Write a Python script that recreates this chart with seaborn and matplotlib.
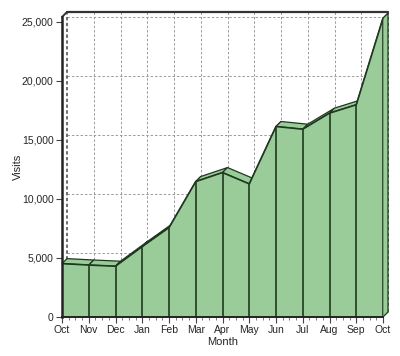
import numpy as np
import pandas as pd
import matplotlib
matplotlib.use('Agg')
import matplotlib.pyplot as plt
from matplotlib.patches import Polygon
from matplotlib.ticker import MultipleLocator, FuncFormatter
import seaborn as sns

sns.set_style('white')
plt.rcParams['font.family'] = ['Liberation Sans', 'DejaVu Sans']

# data
months = ['Oct', 'Nov', 'Dec', 'Jan', 'Feb', 'Mar', 'Apr',
          'May', 'Jun', 'Jul', 'Aug', 'Sep', 'Oct']
visits = [4520, 4400, 4300, 5960, 7570, 11470, 12230,
          11270, 16130, 15900, 17260, 17970, 25300]
y_ticks = [0, 5000, 10000, 15000, 20000, 25000]

df = pd.DataFrame({'pos': np.arange(len(months)), 'visits': visits})

fill_col = '#99cc99'
edge_col = '#1e3a1e'
grid_col = '#9a9a9a'
depth_px = 5

fig = plt.figure(figsize=(4.0, 3.56), dpi=100)
ax = fig.add_axes([62 / 400, 39 / 356, 321 / 400, 300 / 356])
xmax = len(months) - 1
ytop = 25400
ax.set_xlim(0, xmax)
ax.set_ylim(0, ytop)

# depth offset in data units
dx = depth_px / 321 * xmax
dy = depth_px / 300 * ytop

# back wall grid
grid_kw = dict(color=grid_col, lw=0.7, ls=(0, (2.5, 2)), clip_on=False, zorder=1)
for t in y_ticks[1:]:
    ax.plot([dx, xmax + dx], [t + dy, t + dy], **grid_kw)
for p in df['pos'][1:-1]:
    ax.plot([p + dx, p + dx], [dy, ytop + dy], **grid_kw)
ax.plot([dx, xmax + dx], [dy, dy], **grid_kw)
ax.plot([dx, dx], [dy, ytop + dy], color='#555555', lw=1.2, ls=(0, (2, 1.5)),
        clip_on=False, zorder=1)
ax.plot([xmax + dx, xmax + dx], [dy, ytop + dy], color='#555555', lw=1.2,
        ls=(0, (2, 1.5)), clip_on=False, zorder=1)
# back frame top and corner
ax.plot([dx, xmax + dx], [ytop + dy, ytop + dy], color='#333333', lw=1.6,
        clip_on=False, zorder=1)
ax.plot([0, dx], [ytop, ytop + dy], color='#333333', lw=1.4, clip_on=False, zorder=1)
ax.plot([0, dx], [0, dy], color='#333333', lw=1.0, clip_on=False, zorder=1)

# top faces of the area
x = df['pos'].to_numpy()
y = df['visits'].to_numpy()
for i in range(len(x) - 1):
    quad = [(x[i], y[i]), (x[i + 1], y[i + 1]),
            (x[i + 1] + dx, y[i + 1] + dy), (x[i] + dx, y[i] + dy)]
    ax.add_patch(Polygon(quad, closed=True, facecolor=fill_col,
                         edgecolor=edge_col, lw=0.9, clip_on=False, zorder=2))

# right side face
side = [(x[-1], 0), (x[-1], y[-1]), (x[-1] + dx, y[-1] + dy), (x[-1] + dx, dy)]
ax.add_patch(Polygon(side, closed=True, facecolor=fill_col, edgecolor=edge_col,
                     lw=0.9, clip_on=False, zorder=2))

# front face
ax.fill_between(x, 0, y, color=fill_col, lw=0, zorder=3)
ax.vlines(x, 0, y, color=edge_col, lw=1.2, zorder=4)
sns.lineplot(data=df, x='pos', y='visits', ax=ax, color=edge_col, lw=1.2,
             zorder=5, legend=False)

# axes
for s in ['top', 'right']:
    ax.spines[s].set_visible(False)
ax.spines['left'].set_linewidth(1.8)
ax.spines['bottom'].set_linewidth(1.4)
ax.spines['left'].set_color('#222222')
ax.spines['bottom'].set_color('#222222')
ax.spines['left'].set_zorder(6)
ax.spines['bottom'].set_zorder(6)

ax.set_xticks(x)
ax.set_xticklabels(months)
ax.set_yticks(y_ticks)
ax.yaxis.set_major_formatter(FuncFormatter(lambda v, p: f'{int(v):,}'))
ax.xaxis.set_minor_locator(MultipleLocator(0.25))
ax.tick_params(axis='both', which='major', direction='out', length=4, width=0.8,
               color='#444444', labelsize=7.5, pad=2, bottom=True, left=True)
ax.tick_params(axis='x', which='minor', direction='out', length=2, width=0.6,
               color='#666666', bottom=True)
ax.set_xlabel('Month', fontsize=8, labelpad=1)
ax.set_ylabel('Visits', fontsize=8, labelpad=-1)
ax.grid(False)

fig.savefig('out.png', dpi=100)
